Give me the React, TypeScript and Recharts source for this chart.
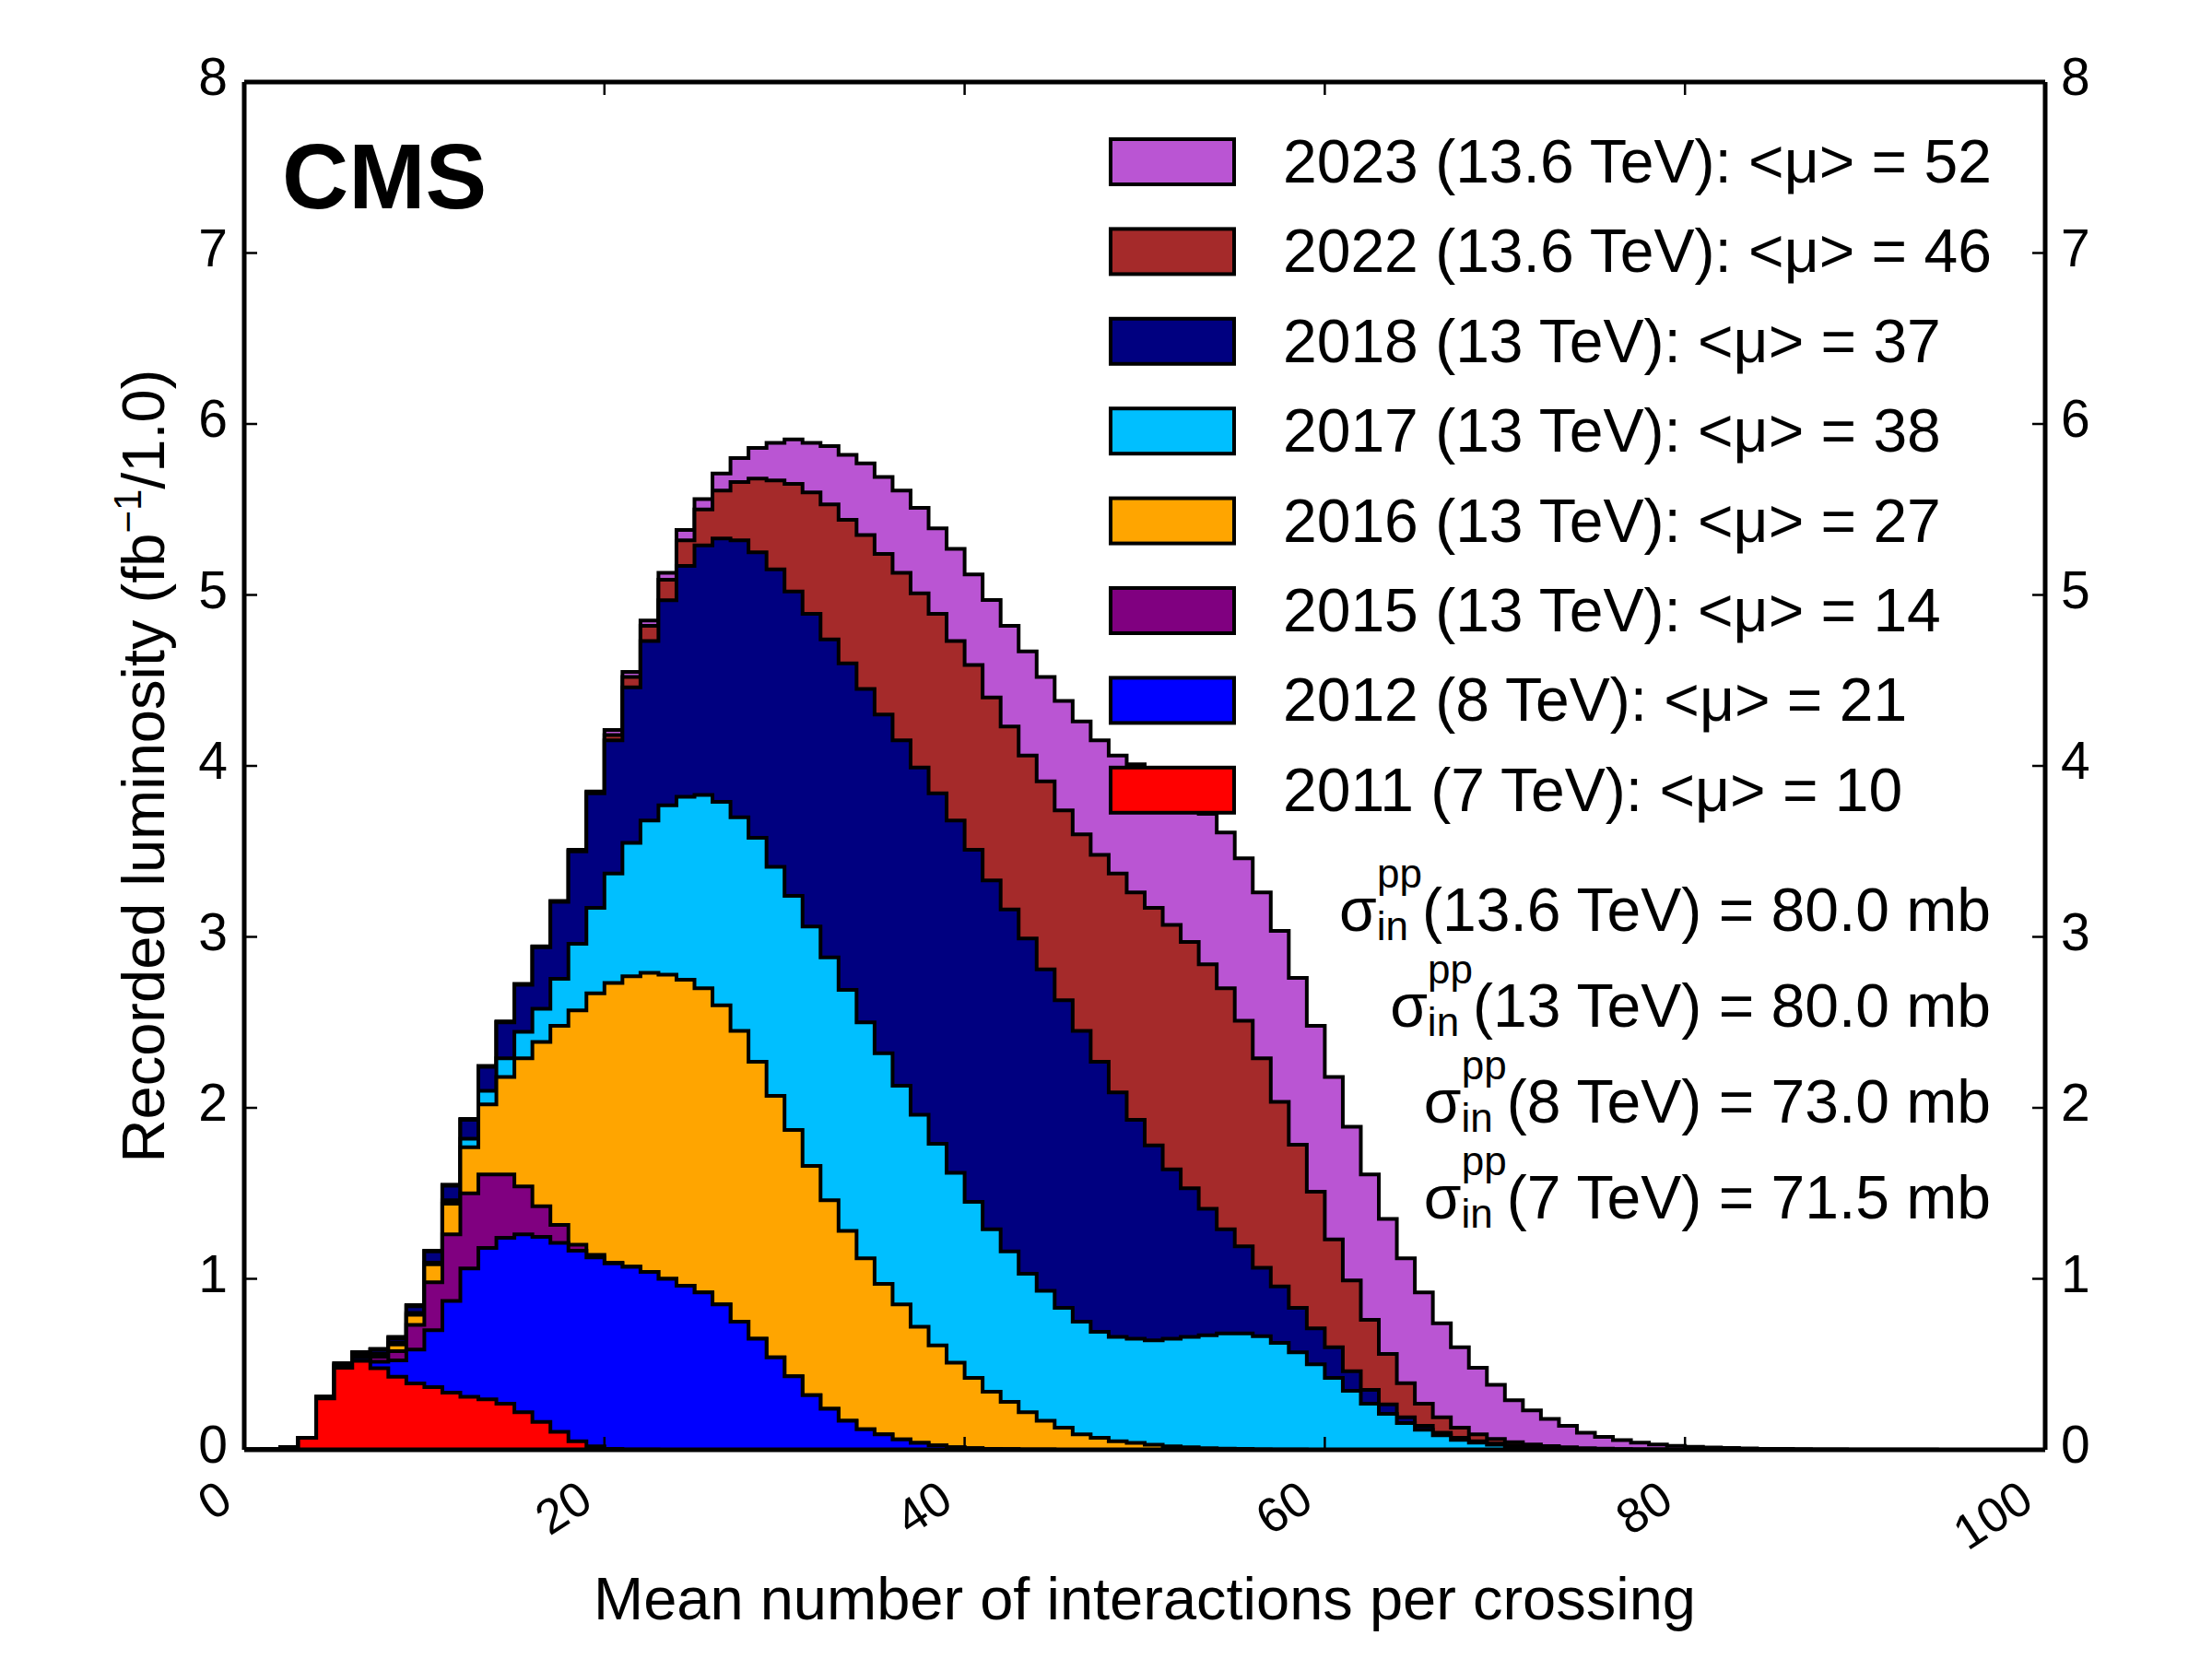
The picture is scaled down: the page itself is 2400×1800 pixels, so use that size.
import React from 'react';
import { ComposedChart, Area, XAxis, YAxis } from 'recharts';

// bin lower edges (mean number of interactions), plus the closing edge 100
const muEdges = [
  0, 1, 2, 3, 4, 5, 6, 7, 8, 9, 10, 11, 12, 13, 14, 15, 16, 17, 18, 19,
  20, 21, 22, 23, 24, 25, 26, 27, 28, 29, 30, 31, 32, 33, 34, 35, 36, 37, 38, 39,
  40, 41, 42, 43, 44, 45, 46, 47, 48, 49, 50, 51, 52, 53, 54, 55, 56, 57, 58, 59,
  60, 61, 62, 63, 64, 65, 66, 67, 68, 69, 70, 71, 72, 73, 74, 75, 76, 77, 78, 79,
  80, 81, 82, 83, 84, 85, 86, 87, 88, 89, 90, 91, 92, 93, 94, 95, 96, 97, 98, 99, 100,
];

const lumi2011 = [
  0.002, 0.004, 0.015, 0.07, 0.3, 0.48, 0.52, 0.477, 0.427, 0.388,
  0.366, 0.334, 0.31, 0.295, 0.27, 0.22, 0.163, 0.105, 0.05, 0.02,
  0.006, 0.002, 0.001, 0, 0, 0, 0, 0, 0, 0,
  0, 0, 0, 0, 0, 0, 0, 0, 0, 0,
  0, 0, 0, 0, 0, 0, 0, 0, 0, 0,
  0, 0, 0, 0, 0, 0, 0, 0, 0, 0,
  0, 0, 0, 0, 0, 0, 0, 0, 0, 0,
  0, 0, 0, 0, 0, 0, 0, 0, 0, 0,
  0, 0, 0, 0, 0, 0, 0, 0, 0, 0,
  0, 0, 0, 0, 0, 0, 0, 0, 0, 0,
];

const lumi2012 = [
  0, 0, 0, 0, 0.003, 0.01, 0.02, 0.038, 0.096, 0.198,
  0.334, 0.536, 0.75, 0.885, 0.97, 1.04, 1.082, 1.105, 1.115, 1.105,
  1.084, 1.068, 1.039, 1.0, 0.96, 0.92, 0.85, 0.75, 0.65, 0.54,
  0.43, 0.32, 0.24, 0.17, 0.12, 0.09, 0.06, 0.04, 0.025, 0.015,
  0.01, 0.006, 0.004, 0.002, 0.001, 0, 0, 0, 0, 0,
  0, 0, 0, 0, 0, 0, 0, 0, 0, 0,
  0, 0, 0, 0, 0, 0, 0, 0, 0, 0,
  0, 0, 0, 0, 0, 0, 0, 0, 0, 0,
  0, 0, 0, 0, 0, 0, 0, 0, 0, 0,
  0, 0, 0, 0, 0, 0, 0, 0, 0, 0,
];

const lumi2015 = [
  0, 0, 0, 0, 0.002, 0.005, 0.01, 0.03, 0.054, 0.144,
  0.28, 0.39, 0.44, 0.43, 0.37, 0.28, 0.18, 0.105, 0.035, 0.015,
  0.005, 0.002, 0.001, 0, 0, 0, 0, 0, 0, 0,
  0, 0, 0, 0, 0, 0, 0, 0, 0, 0,
  0, 0, 0, 0, 0, 0, 0, 0, 0, 0,
  0, 0, 0, 0, 0, 0, 0, 0, 0, 0,
  0, 0, 0, 0, 0, 0, 0, 0, 0, 0,
  0, 0, 0, 0, 0, 0, 0, 0, 0, 0,
  0, 0, 0, 0, 0, 0, 0, 0, 0, 0,
  0, 0, 0, 0, 0, 0, 0, 0, 0, 0,
];

const lumi2016 = [
  0, 0, 0, 0, 0, 0.003, 0.005, 0.01, 0.039, 0.06,
  0.105, 0.18, 0.27, 0.41, 0.57, 0.75, 0.96, 1.165, 1.37, 1.53,
  1.635, 1.698, 1.749, 1.779, 1.79, 1.78, 1.75, 1.7, 1.62, 1.53,
  1.44, 1.34, 1.22, 1.11, 1.0, 0.88, 0.79, 0.68, 0.585, 0.495,
  0.41, 0.334, 0.276, 0.218, 0.169, 0.13, 0.09, 0.07, 0.05, 0.04,
  0.03, 0.02, 0.015, 0.01, 0.007, 0.005, 0.003, 0.002, 0.001, 0,
  0, 0, 0, 0, 0, 0, 0, 0, 0, 0,
  0, 0, 0, 0, 0, 0, 0, 0, 0, 0,
  0, 0, 0, 0, 0, 0, 0, 0, 0, 0,
  0, 0, 0, 0, 0, 0, 0, 0, 0, 0,
];

const lumi2017 = [
  0, 0, 0, 0, 0, 0.002, 0.005, 0.005, 0.009, 0.01,
  0.01, 0.02, 0.05, 0.08, 0.11, 0.155, 0.195, 0.275, 0.39, 0.5,
  0.64, 0.78, 0.89, 0.99, 1.07, 1.13, 1.19, 1.25, 1.31, 1.34,
  1.37, 1.4, 1.42, 1.41, 1.38, 1.35, 1.28, 1.24, 1.18, 1.11,
  1.03, 0.95, 0.88, 0.81, 0.76, 0.7, 0.66, 0.62, 0.61, 0.61,
  0.61, 0.63, 0.645, 0.66, 0.673, 0.675, 0.662, 0.623, 0.569, 0.5,
  0.42, 0.345, 0.27, 0.21, 0.157, 0.117, 0.085, 0.058, 0.042, 0.03,
  0.02, 0.014, 0.01, 0.007, 0.005, 0.003, 0.002, 0.001, 0.001, 0,
  0, 0, 0, 0, 0, 0, 0, 0, 0, 0,
  0, 0, 0, 0, 0, 0, 0, 0, 0, 0,
];

const lumi2018 = [
  0, 0, 0, 0, 0.005, 0.007, 0.01, 0.025, 0.025, 0.04,
  0.065, 0.085, 0.11, 0.14, 0.21, 0.275, 0.36, 0.45, 0.54, 0.67,
  0.78, 0.91, 1.05, 1.2, 1.35, 1.46, 1.54, 1.62, 1.67, 1.74,
  1.78, 1.83, 1.86, 1.91, 1.95, 1.98, 2.02, 2.03, 2.05, 2.06,
  2.06, 2.04, 2.0, 1.96, 1.88, 1.8, 1.7, 1.58, 1.43, 1.28,
  1.14, 0.99, 0.87, 0.74, 0.61, 0.51, 0.4, 0.33, 0.26, 0.21,
  0.18, 0.115, 0.08, 0.055, 0.033, 0.023, 0.015, 0.012, 0.008, 0.006,
  0.005, 0.004, 0.003, 0.002, 0.001, 0.001, 0, 0, 0, 0,
  0, 0, 0, 0, 0, 0, 0, 0, 0, 0,
  0, 0, 0, 0, 0, 0, 0, 0, 0, 0,
];

const lumi2022 = [
  0, 0, 0, 0, 0, 0, 0, 0.003, 0.005, 0.003,
  0.003, 0.003, 0.003, 0.003, 0.003, 0.003, 0.003, 0.003, 0.005, 0.005,
  0.03, 0.06, 0.09, 0.12, 0.15, 0.21, 0.28, 0.34, 0.43, 0.52,
  0.63, 0.71, 0.79, 0.84, 0.9, 0.94, 0.98, 1.02, 1.05, 1.05,
  1.08, 1.07, 1.07, 1.07, 1.1, 1.11, 1.15, 1.21, 1.28, 1.33,
  1.39, 1.43, 1.44, 1.43, 1.41, 1.32, 1.225, 1.08, 0.955, 0.8,
  0.63, 0.53, 0.41, 0.295, 0.2, 0.13, 0.09, 0.06, 0.04, 0.028,
  0.02, 0.013, 0.009, 0.006, 0.004, 0.003, 0.002, 0.001, 0.0005, 0.0005,
  0, 0, 0, 0, 0, 0, 0, 0, 0, 0,
  0, 0, 0, 0, 0, 0, 0, 0, 0, 0,
];

const lumi2023 = [
  0, 0, 0, 0, 0, 0, 0, 0.002, 0.005, 0.003,
  0.002, 0.002, 0.002, 0.002, 0.002, 0.002, 0.002, 0.002, 0.005, 0.005,
  0.03, 0.03, 0.03, 0.04, 0.06, 0.06, 0.1, 0.14, 0.18, 0.22,
  0.26, 0.29, 0.34, 0.38, 0.42, 0.45, 0.48, 0.5, 0.5, 0.54,
  0.53, 0.57, 0.59, 0.61, 0.61, 0.64, 0.66, 0.67, 0.69, 0.75,
  0.75, 0.79, 0.82, 0.88, 0.91, 0.95, 0.97, 1.0, 0.975, 0.97,
  0.95, 0.9, 0.85, 0.79, 0.73, 0.65, 0.55, 0.47, 0.39, 0.316,
  0.245, 0.199, 0.158, 0.125, 0.09, 0.068, 0.053, 0.04, 0.03, 0.0225,
  0.018, 0.014, 0.011, 0.008, 0.006, 0.005, 0.004, 0.003, 0.0025, 0.002,
  0.0015, 0.001, 0.001, 0.0008, 0.0006, 0.0005, 0.0004, 0.0003, 0.0002, 0.0001,
];

const xTicks = [0, 20, 40, 60, 80, 100];
const yTicks = [0, 1, 2, 3, 4, 5, 6, 7, 8];

// stacking order: bottom to top
const series = [
  { key: 'y2011', values: lumi2011, color: '#FF0000', label: '2011 (7 TeV): <μ> = 10' },
  { key: 'y2012', values: lumi2012, color: '#0000FF', label: '2012 (8 TeV): <μ> = 21' },
  { key: 'y2015', values: lumi2015, color: '#800080', label: '2015 (13 TeV): <μ> = 14' },
  { key: 'y2016', values: lumi2016, color: '#FFA500', label: '2016 (13 TeV): <μ> = 27' },
  { key: 'y2017', values: lumi2017, color: '#00BFFF', label: '2017 (13 TeV): <μ> = 38' },
  { key: 'y2018', values: lumi2018, color: '#000080', label: '2018 (13 TeV): <μ> = 37' },
  { key: 'y2022', values: lumi2022, color: '#A52A2A', label: '2022 (13.6 TeV): <μ> = 46' },
  { key: 'y2023', values: lumi2023, color: '#BA55D3', label: '2023 (13.6 TeV): <μ> = 52' },
];

const sigmaLines = [
  { energy: '(13.6 TeV) = 80.0 mb' },
  { energy: '(13 TeV) = 80.0 mb' },
  { energy: '(8 TeV) = 73.0 mb' },
  { energy: '(7 TeV) = 71.5 mb' },
];

// cumulative table (ROOT-like stacked histogram drawing)
const table = muEdges.map((mu, i) => {
  const row: Record<string, number> = { mu };
  let sum = 0;
  series.forEach((s) => {
    const v = i < s.values.length ? s.values[i] : 0;
    sum += v;
    row[s.key] = sum;
  });
  return row;
});

const FONT = '"Liberation Sans", Arial, Helvetica, sans-serif';

const PLOT_L = 265;
const PLOT_R = 2219;
const PLOT_T = 89;
const PLOT_B = 1573;
const Y_AXIS_W = 60;
const X_AXIS_H = 60;
const TOP_AXIS_H = 30;

const LeftTick = (props: any) => {
  const { x, y, payload } = props;
  return (
    <g>
      <line x1={x} x2={x + 14} y1={y} y2={y} stroke="#000" strokeWidth={2.5} />
      <text x={x - 18} y={y + 14} textAnchor="end" fontSize={57} fontFamily={FONT} fill="#000">
        {payload.value}
      </text>
    </g>
  );
};

const RightTick = (props: any) => {
  const { x, y, payload } = props;
  return (
    <g>
      <line x1={x - 14} x2={x} y1={y} y2={y} stroke="#000" strokeWidth={2.5} />
      <text x={x + 17} y={y + 14} textAnchor="start" fontSize={57} fontFamily={FONT} fill="#000">
        {payload.value}
      </text>
    </g>
  );
};

const BottomTick = (props: any) => {
  const { x, y, payload } = props;
  const ax = x - 10;
  const ay = y + 62;
  return (
    <g>
      <line x1={x} x2={x} y1={y} y2={y - 14} stroke="#000" strokeWidth={2.5} />
      <text
        x={ax}
        y={ay}
        textAnchor="end"
        fontSize={53}
        fontFamily={FONT}
        fill="#000"
        transform={`rotate(-33, ${ax}, ${ay})`}
      >
        {payload.value}
      </text>
    </g>
  );
};

const TopTick = (props: any) => {
  const { x, y } = props;
  return <line x1={x} x2={x} y1={y} y2={y + 14} stroke="#000" strokeWidth={2.5} />;
};

export default function App() {
  const drawOrder = [...series].reverse();
  return (
    <div style={{ position: 'absolute', left: 0, top: 0, width: 2400, height: 1800, background: '#fff' }}>
      <ComposedChart
        width={2400}
        height={1800}
        data={table}
        margin={{
          top: PLOT_T - TOP_AXIS_H,
          right: 2400 - PLOT_R - Y_AXIS_W,
          bottom: 1800 - PLOT_B - X_AXIS_H,
          left: PLOT_L - Y_AXIS_W,
        }}
      >
        {drawOrder.map((s) => (
          <Area
            key={s.key}
            xAxisId="b"
            yAxisId="l"
            dataKey={s.key}
            type="stepAfter"
            fill={s.color}
            fillOpacity={1}
            stroke="#000"
            strokeWidth={4}
            strokeLinejoin="miter"
            dot={false}
            activeDot={false}
            isAnimationActive={false}
          />
        ))}
        <Area
          xAxisId="t"
          yAxisId="r"
          dataKey="y2023"
          type="stepAfter"
          fill="none"
          fillOpacity={0}
          stroke="none"
          dot={false}
          activeDot={false}
          isAnimationActive={false}
        />
        <XAxis
          xAxisId="b"
          dataKey="mu"
          type="number"
          domain={[0, 100]}
          ticks={xTicks}
          interval={0}
          height={X_AXIS_H}
          tickSize={0}
          tickMargin={0}
          tick={<BottomTick />}
          axisLine={{ stroke: '#000', strokeWidth: 5 }}
          allowDataOverflow
        />
        <XAxis
          xAxisId="t"
          orientation="top"
          dataKey="mu"
          type="number"
          domain={[0, 100]}
          ticks={xTicks}
          interval={0}
          height={TOP_AXIS_H}
          tickSize={0}
          tickMargin={0}
          tick={<TopTick />}
          axisLine={{ stroke: '#000', strokeWidth: 5 }}
          allowDataOverflow
        />
        <YAxis
          yAxisId="l"
          type="number"
          domain={[0, 8]}
          ticks={yTicks}
          interval={0}
          width={Y_AXIS_W}
          tickSize={0}
          tickMargin={0}
          tick={<LeftTick />}
          axisLine={{ stroke: '#000', strokeWidth: 5 }}
          allowDataOverflow
        />
        <YAxis
          yAxisId="r"
          orientation="right"
          type="number"
          domain={[0, 8]}
          ticks={yTicks}
          interval={0}
          width={Y_AXIS_W}
          tickSize={0}
          tickMargin={0}
          tick={<RightTick />}
          axisLine={{ stroke: '#000', strokeWidth: 5 }}
          allowDataOverflow
        />
      </ComposedChart>
      <svg
        width={2400}
        height={1800}
        style={{ position: 'absolute', left: 0, top: 0, pointerEvents: 'none' }}
      >
        <text x={306} y={226} fontSize={100} fontWeight="bold" fontFamily={FONT} fill="#000">
          CMS
        </text>
        {drawOrder.map((s, k) => (
          <g key={s.key}>
            <rect x={1205} y={151 + k * 97.4} width={134} height={49} fill={s.color} stroke="#000" strokeWidth={4} />
            <text x={1392} y={198 + k * 97.4} fontSize={66} fontFamily={FONT} fill="#000">
              {s.label}
            </text>
          </g>
        ))}
        {sigmaLines.map((l, k) => (
          <text key={k} x={2160} y={1010 + k * 104} textAnchor="end" fontSize={66} fontFamily={FONT} fill="#000">
            σ
            <tspan fontSize={44} dy={10}>in</tspan>
            <tspan fontSize={44} dx={-34} dy={-57}>pp</tspan>
            <tspan fontSize={66} dy={47}>{l.energy}</tspan>
          </text>
        ))}
        <text x={1242} y={1757} textAnchor="middle" fontSize={65} fontFamily={FONT} fill="#000">
          Mean number of interactions per crossing
        </text>
        <text
          x={178}
          y={831}
          textAnchor="middle"
          fontSize={65}
          fontFamily={FONT}
          fill="#000"
          transform="rotate(-90, 178, 831)"
        >
          Recorded luminosity (fb
          <tspan fontSize={42} dy={-25}>−1</tspan>
          <tspan fontSize={65} dy={25}>/1.0)</tspan>
        </text>
      </svg>
    </div>
  );
}
